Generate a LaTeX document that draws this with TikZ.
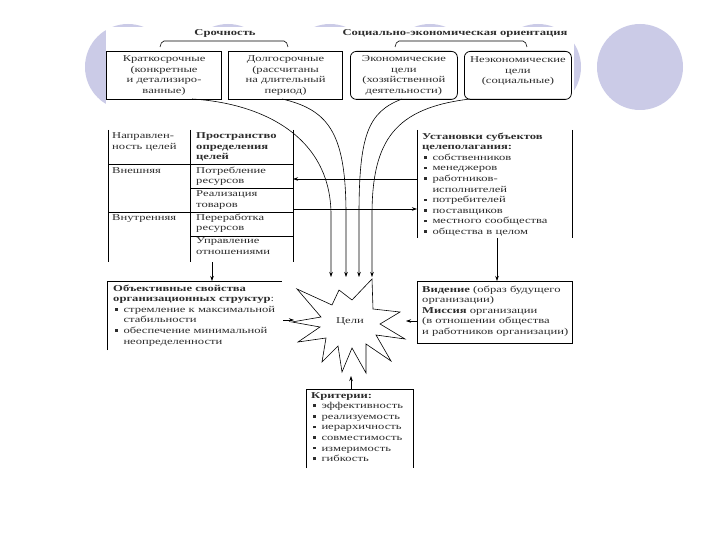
\documentclass[tikz,border=0pt]{standalone}
\usepackage{fontspec}
\setmainfont{Liberation Serif}[FakeStretch=1.4]
\usetikzlibrary{arrows.meta}
\definecolor{lav}{RGB}{203,203,231}
\definecolor{ink}{RGB}{45,45,45}
\newcommand{\bul}{\hspace*{1.8pt}\makebox[8.5pt][l]{\rule[1.6pt]{2.6pt}{2.6pt}}}
\newcommand{\ind}{\hspace*{10.3pt}}
\begin{document}
\begin{tikzpicture}[x=1pt,y=-1pt,
  txt/.style={inner sep=0pt, align=left, anchor=north west, font=\fontsize{9}{10.6}\selectfont, text=ink, execute at begin node=\rule{0pt}{7pt}},
  ctxt/.style={txt, align=center, anchor=north},
  ttl/.style={inner sep=0pt, font=\fontsize{9}{10.6}\selectfont\bfseries, text=ink},
  sqbox/.style={draw=black, line width=1.1pt},
  rbox/.style={draw=black, line width=0.8pt, rounded corners=6pt},
  rl/.style={draw=black, line width=0.7pt},
  arr/.style={-{Stealth[length=5pt,width=3.5pt]}, line width=0.6pt},
]
\useasboundingbox (0,0) rectangle (720,540);
\fill[white] (0,0) rectangle (720,540);
% template circles
\foreach \cx in {128,228,330,430,538,640}
  \fill[lav] (\cx,67) circle[radius=43pt];
% scanned page area
\fill[white] (106,27) rectangle (574,480);

% titles and brackets
\node[ttl] (t1) at (225,33) {Срочность};
\node[ttl] (t2) at (455,33) {Социально-экономическая ориентация};
\draw[line width=0.6pt, rounded corners=2pt] (160,47) -- (162,41) -- (286,41) -- (288,47);
\draw[line width=0.6pt, rounded corners=2pt] (395,47) -- (397,41) -- (525,41) -- (527,47);

% top boxes
\node[sqbox, ctxt, anchor=north west, minimum width=115pt, minimum height=48pt] (b1) at (106,51)
  {Краткосрочные\\(конкретные\\и детализиро-\\ванные)};
\node[sqbox, ctxt, anchor=north west, minimum width=114pt, minimum height=48pt] (b2) at (228,51)
  {Долгосрочные\\(рассчитаны\\на длительный\\период)};
\node[rbox, ctxt, anchor=north west, minimum width=107pt, minimum height=48pt] (b3) at (350,51)
  {Экономические\\цели\\(хозяйственной\\деятельности)};
\node[rbox, ctxt, anchor=north west, minimum width=107pt, minimum height=48pt] (b4) at (464,51)
  {Неэкономические\\цели\\(социальные)\\[0pt]\mbox{}};

% left table
\draw[rl] (108,130) -- (108,262);
\draw[rl] (190,130) -- (190,262);
\draw[rl] (293,130) -- (293,262);
\draw[rl] (108,164) -- (293,164);
\draw[rl] (190,188) -- (293,188);
\draw[rl] (108,212) -- (293,212);
\draw[rl] (190,236) -- (293,236);
\node[txt] (h1) at (112,132.5) {Направлен-\\ность целей};
\node[txt] (h2) at (196,132.5) {\textbf{Пространство}\\\textbf{определения}\\\textbf{целей}};
\node[txt] (ext) at (112,166.5) {Внешняя};
\node[txt] (c1) at (196,166.5) {Потребление\\ресурсов};
\node[txt] (c2) at (196,190.5) {Реализация\\товаров};
\node[txt] (int) at (112,213.5) {Внутренняя};
\node[txt] (c3) at (196,213.5) {Переработка\\ресурсов};
\node[txt] (c4) at (196,237.5) {Управление\\отношениями};

% right list
\draw[rl] (417,130) -- (417,238);
\draw[rl] (572,130) -- (572,238);
\node[txt] (subj) at (422,132.5) {\textbf{Установки субъектов}\\\textbf{целеполагания:}\\
  \bul собственников\\\bul менеджеров\\\bul работников-\\\ind исполнителей\\
  \bul потребителей\\\bul поставщиков\\\bul местного сообщества\\\bul общества в целом};

% lower left box
\draw[rl] (107,350) -- (107,281.5) -- (282,281.5);
\node[txt] (obj) at (113,284.5) {\textbf{Объективные свойства}\\\textbf{организационных структур}:\\
  \bul стремление к максимальной\\\ind стабильности\\\bul обеспечение минимальной\\\ind неопределенности};

% vision box
\draw[rl] (417,281) rectangle (572,343.5);
\node[txt] (vis) at (422,285.5) {\textbf{Видение} (образ будущего\\организации)\\\textbf{Миссия} организации\\(в отношении общества\\и работников организации)};

% criteria box
\draw[rl] (306,468) -- (306,389) -- (413,389) -- (413,468);
\node[txt] (crit) at (311,392) {\textbf{Критерии:}\\\bul эффективность\\\bul реализуемость\\\bul иерархичность\\\bul совместимость\\\bul измеримость\\\bul гибкость};

% star
\draw[line width=0.6pt, fill=white] (297,289) -- (332,305) -- (339,290) -- (352,300) -- (372,279) -- (373,309)
  -- (400,312) -- (380,324) -- (405,339) -- (376,335) -- (391,361) -- (366,344) -- (366,373)
  -- (352,348) -- (342,372) -- (338,346) -- (322,362) -- (326,338) -- (298,342) -- (320,327)
  -- (292,322) -- (321,317) -- cycle;
\node[inner sep=0pt, font=\fontsize{9}{10.6}\selectfont, text=ink] (goal) at (350,322) {Цели};

% connector end points
\coordinate (tR1) at (293,179); \coordinate (lL1) at (417,179);
\coordinate (tR2) at (293,209); \coordinate (lL2) at (417,209);
\coordinate (tB) at (212,262);  \coordinate (oT) at (212,281);
\coordinate (lB) at (497,238);  \coordinate (vT) at (497,281);
\coordinate (oR) at (283,320);  \coordinate (sL) at (294,320);
\coordinate (vL) at (417,321);  \coordinate (sR) at (406,321);
\coordinate (cT) at (351,389);  \coordinate (sB) at (351,376);
\coordinate (g1) at (331,277);  \coordinate (g2) at (346,277);
\coordinate (g3) at (359,277);  \coordinate (g4) at (372,277);

\draw[arr] (lL1) -- (tR1);
\draw[arr] (tR2) -- (lL2);
\draw[arr] (tB) -- (oT);
\draw[arr] (lB) -- (vT);
\draw[arr] (oR) -- (sL);
\draw[arr] (vL) -- (sR);
\draw[arr] (cT) -- (sB);

\draw[arr] (192,99) .. controls (260,103) and (331,135) .. (331,215) -- (g1);
\draw[arr] (282,99) .. controls (330,110) and (346,135) .. (346,215) -- (g2);
\draw[arr] (402,99) .. controls (368,112) and (359,135) .. (359,215) -- (g3);
\draw[arr] (470,99) .. controls (395,108) and (372,140) .. (372,215) -- (g4);
\end{tikzpicture}
\end{document}
